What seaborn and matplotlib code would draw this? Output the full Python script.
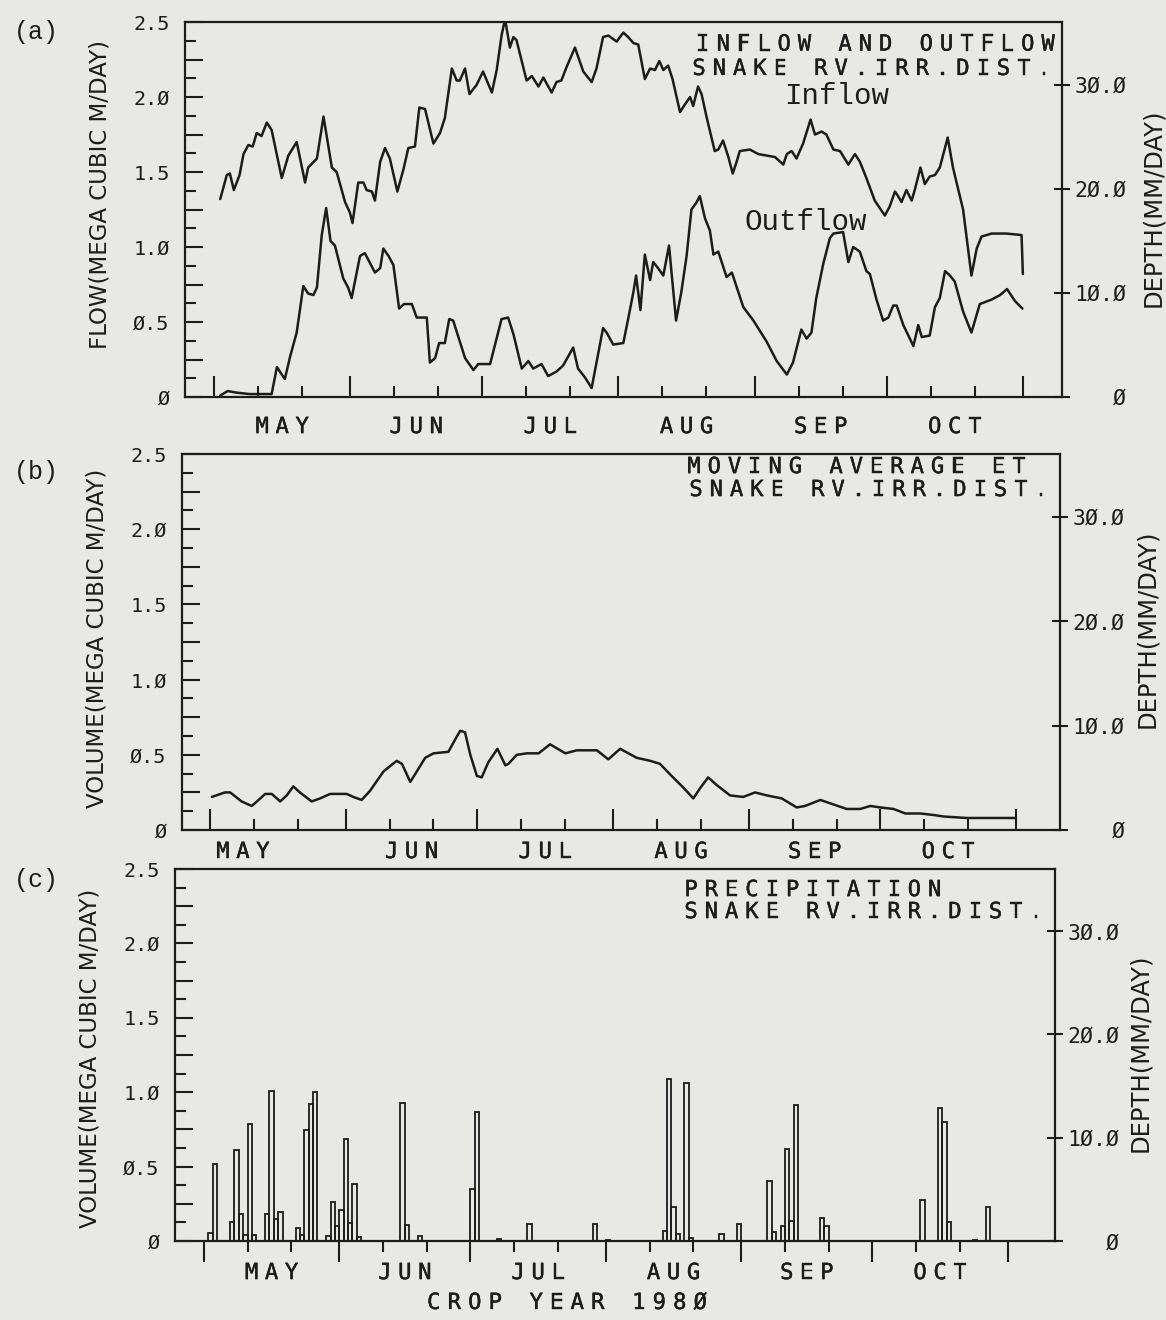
import numpy as np
import pandas as pd
import matplotlib
matplotlib.use("Agg")
import matplotlib.pyplot as plt
import matplotlib.transforms as mtransforms
import matplotlib.patheffects as pe
from matplotlib.ticker import FixedLocator, FuncFormatter
import seaborn as sns

# ---------------- data (days counted from May 1 = 0) ----------------
month_names = ["MAY", "JUN", "JUL", "AUG", "SEP", "OCT"]
month_starts = [0, 31, 61, 92, 123, 153, 184]

inflow_day = [1.4, 2.9, 3.6, 4.5, 5.8, 6.7, 7.8, 8.8, 9.7, 10.8, 12.0, 13.1, 15.4, 16.9, 18.8,
              20.7, 21.4, 23.4, 24.9, 26.8, 27.9, 29.8, 30.9, 31.5, 32.8, 34.0, 34.7, 35.9, 36.6,
              37.8, 38.9, 40.0, 41.7, 43.1, 44.2, 45.7, 46.7, 48.0, 49.9, 51.4, 52.5, 54.1, 55.2,
              55.9, 57.1, 58.1, 59.7, 61.2, 63.2, 64.3, 65.4, 66.2, 67.3, 68.1, 68.8, 71.1, 72.3,
              73.8, 74.9, 76.8, 77.9, 79.0, 80.2, 82.1, 84.0, 85.9, 87.0, 88.5, 89.7, 91.6, 93.1,
              94.2, 95.4, 96.5, 98.0, 99.2, 100.3, 101.3, 102.2, 103.3, 104.3, 106.0, 107.1, 108.3,
              109.0, 110.1, 110.9, 112.1, 113.9, 114.7, 115.8, 117.0, 118.0, 118.9, 119.6, 121.9,
              123.8, 125.7, 127.6, 129.5, 130.3, 131.4, 132.5, 134.0, 135.7, 136.7, 138.2, 139.3,
              140.9, 142.4, 144.3, 145.8, 146.9, 148.4, 150.3, 152.6, 153.7, 154.9, 155.6, 156.4,
              157.5, 158.7, 159.4, 160.7, 161.7, 162.8, 164.0, 165.1, 166.9, 168.1, 170.4, 172.3,
              173.5, 174.6, 176.9, 178.8, 180.3, 183.7, 184.0]
inflow_val = [1.32, 1.48, 1.49, 1.38, 1.48, 1.62, 1.68, 1.67, 1.76, 1.74, 1.83, 1.78, 1.46, 1.61, 1.70,
              1.43, 1.53, 1.59, 1.87, 1.53, 1.50, 1.30, 1.23, 1.16, 1.43, 1.43, 1.38, 1.37, 1.31,
              1.57, 1.66, 1.59, 1.37, 1.52, 1.66, 1.67, 1.93, 1.92, 1.69, 1.76, 1.86, 2.19, 2.11,
              2.11, 2.19, 2.02, 2.08, 2.17, 2.03, 2.18, 2.41, 2.52, 2.33, 2.40, 2.38, 2.11, 2.14,
              2.07, 2.13, 2.03, 2.10, 2.11, 2.20, 2.33, 2.17, 2.10, 2.19, 2.40, 2.41, 2.37, 2.43,
              2.40, 2.36, 2.35, 2.12, 2.19, 2.18, 2.24, 2.18, 2.21, 2.12, 1.90, 1.95, 2.00,
              1.94, 2.07, 2.02, 1.86, 1.64, 1.65, 1.71, 1.60, 1.49, 1.57, 1.64, 1.65,
              1.62, 1.61, 1.60, 1.55, 1.62, 1.64, 1.59, 1.69, 1.85, 1.75, 1.77, 1.75,
              1.65, 1.64, 1.55, 1.62, 1.57, 1.46, 1.31, 1.21, 1.27, 1.37, 1.34, 1.30,
              1.38, 1.31, 1.38, 1.53, 1.42, 1.47, 1.48, 1.53, 1.73, 1.53, 1.25, 0.81,
              0.99, 1.07, 1.09, 1.09, 1.09, 1.08, 0.82]

outflow_day = [1.4, 3.1, 5.0, 8.0, 10.0, 13.1, 14.3, 16.1, 17.3, 18.8, 20.3, 21.4, 22.6, 23.4, 24.5,
               25.5, 26.5, 27.5, 29.4, 30.5, 31.3, 33.2, 34.3, 36.6, 37.8, 38.5, 39.7, 40.8, 42.1,
               43.2, 45.0, 46.1, 48.4, 49.1, 50.3, 51.2, 52.5, 53.5, 54.4, 57.1, 59.0, 60.1, 62.8,
               65.4, 66.9, 68.1, 70.0, 71.5, 72.6, 74.5, 76.0, 77.9, 79.4, 81.7, 82.8, 84.4, 85.9,
               88.5, 89.3, 90.8, 93.1, 94.2, 95.4, 96.0, 97.0, 98.0, 99.2, 99.9, 101.0, 102.2, 103.5,
               105.1, 106.3, 107.5, 108.6, 109.8, 110.5, 111.7, 112.8, 113.6, 114.7, 116.6, 117.8,
               120.4, 122.7, 125.7, 128.0, 130.3, 131.7, 133.6, 134.8, 135.9, 137.0, 138.6, 140.1,
               140.9, 143.1, 144.3, 145.4, 146.9, 148.4, 149.2, 150.7, 152.2, 153.4, 154.5, 155.3,
               156.8, 159.1, 160.2, 161.0, 162.8, 164.0, 165.1, 166.3, 167.4, 168.5, 170.4, 172.3,
               174.2, 176.9, 178.8, 180.4, 182.2, 183.9]
outflow_val = [0.01, 0.04, 0.03, 0.02, 0.02, 0.02, 0.20, 0.12, 0.27, 0.43, 0.74, 0.69, 0.68, 0.73, 1.08,
               1.26, 1.04, 1.01, 0.79, 0.73, 0.66, 0.94, 0.96, 0.83, 0.86, 0.99, 0.94, 0.88, 0.59,
               0.62, 0.62, 0.53, 0.53, 0.23, 0.26, 0.36, 0.36, 0.52, 0.51, 0.26, 0.18, 0.22, 0.22,
               0.52, 0.53, 0.42, 0.19, 0.24, 0.19, 0.22, 0.14, 0.17, 0.21, 0.33, 0.19, 0.13, 0.06,
               0.46, 0.43, 0.35, 0.36, 0.52, 0.70, 0.81, 0.58, 0.95, 0.78, 0.90, 0.86, 0.81, 1.01,
               0.51, 0.70, 0.94, 1.25, 1.30, 1.34, 1.19, 1.11, 0.95, 0.97, 0.80, 0.83,
               0.60, 0.51, 0.37, 0.24, 0.15, 0.23, 0.45, 0.39, 0.43, 0.66, 0.89, 1.06,
               1.09, 1.10, 0.90, 1.00, 0.97, 0.84, 0.82, 0.65, 0.51, 0.53, 0.61, 0.61,
               0.48, 0.34, 0.48, 0.40, 0.41, 0.60, 0.66, 0.84, 0.81, 0.77, 0.57, 0.43,
               0.62, 0.65, 0.68, 0.72, 0.64, 0.59]

et_day = [0.4, 3.4, 4.6, 7.2, 9.5, 10.7, 12.6, 14.1, 16.0, 17.5, 19.0, 20.5, 23.2, 25.1, 27.4, 31.2,
          32.7, 34.6, 36.5, 39.6, 42.6, 43.8, 45.7, 47.2, 49.1, 51.0, 54.4, 55.9, 57.1, 58.2, 59.4,
          60.9, 62.0, 63.5, 65.6, 67.4, 68.1, 70.0, 72.3, 75.0, 77.6, 81.1, 83.7, 86.4, 88.3, 90.9,
          93.6, 97.4, 100.5, 102.7, 105.0, 108.1, 110.3, 111.9, 113.7, 115.6, 118.7, 121.7, 124.4,
          127.1, 130.5, 133.9, 135.8, 139.3, 142.3, 145.3, 148.4, 150.7, 153.0, 156.0, 158.7, 162.1,
          165.1, 167.4, 172.7, 178.8, 183.8]
et_val = [0.22, 0.25, 0.25, 0.19, 0.16, 0.19, 0.24, 0.24, 0.19, 0.23, 0.29, 0.25, 0.19, 0.21, 0.24, 0.24,
          0.22, 0.20, 0.26, 0.39, 0.46, 0.44, 0.32, 0.39, 0.48, 0.51, 0.52, 0.60, 0.66, 0.65, 0.50,
          0.36, 0.35, 0.45, 0.54, 0.43, 0.44, 0.50, 0.51, 0.51, 0.57, 0.51, 0.53, 0.53, 0.53, 0.47,
          0.54, 0.48, 0.46, 0.44, 0.37, 0.28, 0.21, 0.28, 0.35, 0.30, 0.23, 0.22, 0.25,
          0.23, 0.21, 0.15, 0.16, 0.20, 0.17, 0.14, 0.14, 0.16, 0.15, 0.14, 0.11, 0.11,
          0.10, 0.09, 0.08, 0.08, 0.08]

precip_day = [1, 2, 6, 7, 8, 9, 10, 11, 14, 15, 16, 17, 21, 22, 23, 24, 25, 28, 29, 30, 31, 32, 33, 34,
              35, 45, 46, 49, 61, 62, 67, 74, 89, 92, 105, 106, 107, 108, 110, 111, 118, 122, 129,
              130, 132, 133, 134, 135, 141, 142, 164, 168, 169, 170, 176, 179]
precip_val = [0.055, 0.515, 0.127, 0.61, 0.18, 0.04, 0.785, 0.04, 0.18, 1.01, 0.147, 0.197, 0.088, 0.04,
              0.745, 0.92, 1.0, 0.033, 0.26, 0.10, 0.21, 0.686, 0.12, 0.384, 0.026, 0.93, 0.11, 0.037,
              0.35, 0.87, 0.015, 0.116, 0.116, 0.007, 0.07, 1.09, 0.23, 0.05, 1.06, 0.022, 0.048,
              0.116, 0.405, 0.06, 0.10, 0.62, 0.136, 0.917, 0.153, 0.10, 0.274, 0.895, 0.80, 0.127,
              0.005, 0.23]

depth_ticks = [0, 10, 20, 30]
depth_labels = ["   Ø", "1Ø.Ø", "2Ø.Ø", "3Ø.Ø"]
depth_max = 36.0

# ---------------- style ----------------
PAPER = "#e8e8e4"
INK = "#1c1c1c"
sns.set_theme(style="white")
plt.rcParams["font.family"] = ["DejaVu Sans Mono", "DejaVu Sans"]

PEN = [pe.withStroke(linewidth=0.3, foreground=INK)]

fig = plt.figure(figsize=(11.66, 13.2), dpi=100, facecolor=PAPER)


def spaced(x, y, s, pitch, transform, dy=0, align="center", **kw):
    n = len(s)
    x0 = -(n - 1) / 2 * pitch if align == "center" else 0.0
    for i, ch in enumerate(s):
        if ch == " ":
            continue
        tr = mtransforms.offset_copy(transform, fig=fig, x=x0 + i * pitch, y=dy, units="dots")
        fig.text(x, y, ch, transform=tr, ha="center", va="center", color=INK,
                 path_effects=PEN, **kw)


def ylab(v, pos):
    if abs(v * 2 - round(v * 2)) > 1e-6:
        return ""
    if abs(v) < 1e-9:
        return "Ø"
    return ("%.1f" % v).replace("0", "Ø")


def style_axis(ax, xlim, xtickdir, month_dy, may_shift=0.0):
    ax.set_facecolor(PAPER)
    for sp in ax.spines.values():
        sp.set_color(INK)
        sp.set_linewidth(1.6)
    ax.set_xlim(*xlim)
    ax.set_ylim(0, 2.5)
    ax.set_xlabel("")
    ax.set_ylabel("")
    ax.grid(False)
    ax.xaxis.set_major_locator(FixedLocator(month_starts))
    minors = [s + k for s in month_starts[:-1] for k in (10, 20)]
    ax.xaxis.set_minor_locator(FixedLocator(minors))
    ax.tick_params(axis="x", which="major", direction=xtickdir, length=15, width=1.5,
                   color=INK, bottom=True, top=False, labelbottom=False)
    ax.tick_params(axis="x", which="minor", direction=xtickdir, length=8, width=1.5,
                   color=INK, bottom=True, top=False, labelbottom=False)
    ax.yaxis.set_major_locator(FixedLocator(np.arange(0, 2.51, 0.25)))
    ax.yaxis.set_minor_locator(FixedLocator(np.arange(0.125, 2.5, 0.25)))
    ax.yaxis.set_major_formatter(FuncFormatter(ylab))
    ax.tick_params(axis="y", which="major", direction="in", length=13, width=1.5, color=INK,
                   left=True, right=False, labelsize=14.5, labelcolor=INK, pad=11)
    ax.tick_params(axis="y", which="minor", direction="in", length=8, width=1.5, color=INK,
                   left=True, right=False)
    ax2 = ax.twinx()
    ax2.set_ylim(0, depth_max)
    ax2.yaxis.set_major_locator(FixedLocator(depth_ticks))
    ax2.set_yticklabels(depth_labels)
    ax2.tick_params(axis="y", direction="inout", length=12, width=1.5, color=INK, right=True,
                    left=False, labelsize=15.5, labelcolor=INK, pad=3)
    for sp in ax2.spines.values():
        sp.set_visible(False)
    ax2.grid(False)
    trans = mtransforms.blended_transform_factory(ax.transData, ax.transAxes)
    for i, name in enumerate(month_names):
        cx = (month_starts[i] + month_starts[i + 1]) / 2
        if name == "MAY":
            cx += may_shift
        spaced(cx, 0, name, 20, trans, dy=month_dy, fontsize=16)
    return ax2


# ---------------- panel (a) ----------------
ax_a = fig.add_axes([0.1587, 0.6992, 0.7521, 0.2841])
df_in = pd.DataFrame({"day": inflow_day, "flow": inflow_val})
df_out = pd.DataFrame({"day": outflow_day, "flow": outflow_val})
sns.lineplot(data=df_in, x="day", y="flow", ax=ax_a, color=INK, lw=1.8, estimator=None, sort=False)
sns.lineplot(data=df_out, x="day", y="flow", ax=ax_a, color=INK, lw=1.8, estimator=None, sort=False)
style_axis(ax_a, (-6.6, 192.9), "in", -30)
spaced(0.5906, 0.9400, "INFLOW AND OUTFLOW", 20.3, ax_a.transAxes, align="first", fontsize=16)
spaced(0.5861, 0.8750, "SNAKE RV.IRR.DIST.", 20.3, ax_a.transAxes, align="first", fontsize=16)
ax_a.text(0.7434, 0.8030, "Inflow", transform=ax_a.transAxes, ha="center", va="center",
          family="Liberation Mono", fontsize=21, color=INK)
ax_a.text(0.7080, 0.4667, "Outflow", transform=ax_a.transAxes, ha="center", va="center",
          family="Liberation Mono", fontsize=21, color=INK)

# ---------------- panel (b) ----------------
ax_b = fig.add_axes([0.1561, 0.3712, 0.7530, 0.2848])
df_et = pd.DataFrame({"day": et_day, "et": et_val})
sns.lineplot(data=df_et, x="day", y="et", ax=ax_b, color=INK, lw=1.8, estimator=None, sort=False)
style_axis(ax_b, (-6.4, 194.0), "in", -22, may_shift=-8)
spaced(0.5831, 0.9654, "MOVING AVERAGE ET", 20.3, ax_b.transAxes, align="first", fontsize=16)
spaced(0.5854, 0.9043, "SNAKE RV.IRR.DIST.", 20.3, ax_b.transAxes, align="first", fontsize=16)

# ---------------- panel (c) ----------------
ax_c = fig.add_axes([0.1501, 0.0598, 0.7547, 0.2818])
ax_c.bar(np.array(precip_day) + 0.5, precip_val, width=1.0, fill=False, edgecolor=INK, linewidth=1.3)
style_axis(ax_c, (-6.6, 194.8), "out", -32)
spaced(0.5864, 0.9435, "PRECIPITATION", 20.3, ax_c.transAxes, align="first", fontsize=16)
spaced(0.5864, 0.8844, "SNAKE RV.IRR.DIST.", 20.3, ax_c.transAxes, align="first", fontsize=16)
spaced(0.4863, 0.0129, "CROP YEAR 198Ø", 20.5, fig.transFigure, fontsize=16)

# ---------------- figure-level labels ----------------
for lab, yy in (("(a)", 0.9758), ("(b)", 0.6424), ("(c)", 0.3333)):
    fig.text(0.031, yy, lab, family="Liberation Mono", fontsize=18, color=INK, ha="center", va="center")

left_labels = [("FLOW(MEGA CUBIC M/DAY)", 0.0858, 0.8523),
               ("VOLUME(MEGA CUBIC M/DAY)", 0.0832, 0.5167),
               ("VOLUME(MEGA CUBIC M/DAY)", 0.0772, 0.1985)]
for txt, xx, yy in left_labels:
    fig.text(xx, yy, txt, rotation=90, family="DejaVu Sans", fontsize=16.5, color=INK,
             ha="center", va="center")
for xx, yy in ((0.989, 0.8424), (0.984, 0.5235), (0.978, 0.2023)):
    fig.text(xx, yy, "DEPTH(MM/DAY)", rotation=90, family="DejaVu Sans", fontsize=17.5, color=INK,
             ha="center", va="center")

fig.savefig("out.png", dpi=100, facecolor=PAPER)
